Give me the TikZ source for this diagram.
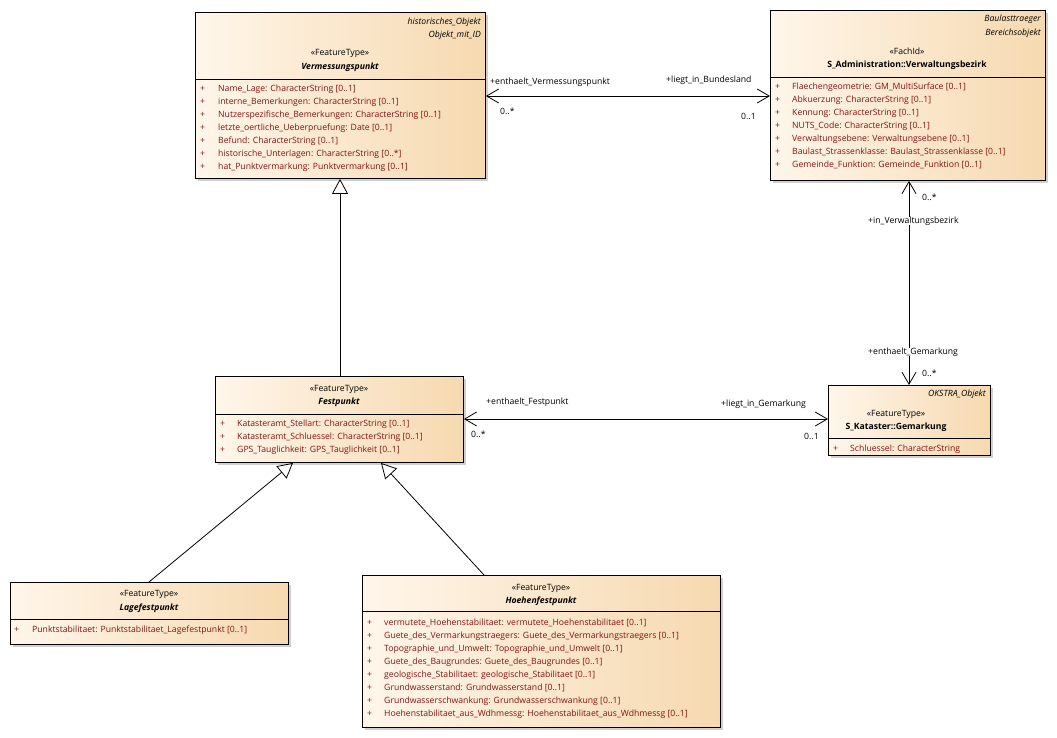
\documentclass[tikz,border=0pt]{standalone}
\usepackage{fontspec}
\setmainfont{Open Sans}
\usetikzlibrary{arrows.meta,shadows}
\definecolor{boxL}{RGB}{255,246,234}
\definecolor{boxR}{RGB}{246,217,176}
\definecolor{attrred}{RGB}{135,18,18}
\definecolor{shadowgray}{RGB}{208,208,208}
\newcommand{\fsz}{\fontsize{8.65}{10}\selectfont}
\tikzset{
  umlbox/.style={draw=black, line width=0.9pt, left color=boxL, right color=boxR, shading angle=90,
     inner sep=0pt, anchor=north west,
     drop shadow={shadow xshift=3pt, shadow yshift=-3pt, fill=shadowgray, opacity=1}},
  txt/.style={inner sep=0pt, font=\fsz},
  attr/.style={txt, anchor=west, text=attrred},
  stereo/.style={txt},
  cname/.style={txt, font=\fsz\bfseries\itshape},
  cnameup/.style={txt, font=\fsz\bfseries},
  tagr/.style={txt, anchor=east, font=\fsz\itshape},
  role/.style={txt, anchor=west},
  divider/.style={line width=0.9pt},
  gen/.style={line width=0.8pt, -{Triangle[open, length=15pt, width=16pt, line width=0.8pt]}},
  assoc/.style={line width=0.8pt, {Straight Barb[length=12pt, width=14pt, line width=0.8pt]}-{Straight Barb[length=12pt, width=14pt, line width=0.8pt]}}
}
\begin{document}
\begin{tikzpicture}[x=1pt, y=-1pt]
\useasboundingbox[fill=white] (0,0) rectangle (1057,738);

% ---------- Vermessungspunkt ----------
\node[umlbox, minimum width=290pt, minimum height=166pt] (verm) at (195,12) {};
\node[tagr] (vt1) at (481,22) {historisches\_Objekt};
\node[tagr] (vt2) at (481,35) {Objekt\_mit\_ID};
\node[stereo] (vs) at (340,53) {«FeatureType»};
\node[cname] (vn) at (340,67) {Vermessungspunkt};
\coordinate (vd) at (0,79);
\draw[divider] (verm.west |- vd) -- (verm.east |- vd);
\foreach \y/\t [count=\i] in {89/{Name\_Lage: CharacterString [0..1]},
  102/{interne\_Bemerkungen: CharacterString [0..1]},
  115/{Nutzerspezifische\_Bemerkungen: CharacterString [0..1]},
  128/{letzte\_oertliche\_Ueberpruefung: Date [0..1]},
  141/{Befund: CharacterString [0..1]},
  154/{historische\_Unterlagen: CharacterString [0..*]},
  167/{hat\_Punktvermarkung: Punktvermarkung [0..1]}}
{ \node[attr] (vp\i) at (200,\y) {+}; \node[attr] (va\i) at (218,\y) {\t}; }

% ---------- Verwaltungsbezirk ----------
\node[umlbox, minimum width=275pt, minimum height=170pt] (verw) at (770,10) {};
\node[tagr] (wt1) at (1041,19) {Baulasttraeger};
\node[tagr] (wt2) at (1041,33) {Bereichsobjekt};
\node[stereo] (ws) at (907,51) {«FachId»};
\node[cnameup] (wn) at (907,65) {S\_Administration::Verwaltungsbezirk};
\coordinate (wd) at (0,77);
\draw[divider] (verw.west |- wd) -- (verw.east |- wd);
\foreach \y/\t [count=\i] in {87/{Flaechengeometrie: GM\_MultiSurface [0..1]},
  100/{Abkuerzung: CharacterString [0..1]},
  113/{Kennung: CharacterString [0..1]},
  126/{NUTS\_Code: CharacterString [0..1]},
  139/{Verwaltungsebene: Verwaltungsebene [0..1]},
  152/{Baulast\_Strassenklasse: Baulast\_Strassenklasse [0..1]},
  165/{Gemeinde\_Funktion: Gemeinde\_Funktion [0..1]}}
{ \node[attr] (wp\i) at (775,\y) {+}; \node[attr] (wa\i) at (792,\y) {\t}; }

% ---------- Festpunkt ----------
\node[umlbox, minimum width=248pt, minimum height=86pt] (fest) at (215,376) {};
\node[stereo] (fs) at (339,389) {«FeatureType»};
\node[cname] (fn) at (339,402) {Festpunkt};
\coordinate (fd) at (0,414);
\draw[divider] (fest.west |- fd) -- (fest.east |- fd);
\foreach \y/\t [count=\i] in {424/{Katasteramt\_Stellart: CharacterString [0..1]},
  437/{Katasteramt\_Schluessel: CharacterString [0..1]},
  450/{GPS\_Tauglichkeit: GPS\_Tauglichkeit [0..1]}}
{ \node[attr] (fp\i) at (220,\y) {+}; \node[attr] (fa\i) at (237,\y) {\t}; }

% ---------- Gemarkung ----------
\node[umlbox, minimum width=162pt, minimum height=70pt] (gem) at (828,385) {};
\node[tagr] (gt1) at (986,394) {OKSTRA\_Objekt};
\node[stereo] (gs) at (896,414) {«FeatureType»};
\node[cnameup] (gn) at (896,427) {S\_Kataster::Gemarkung};
\coordinate (gd) at (0,438);
\draw[divider] (gem.west |- gd) -- (gem.east |- gd);
\node[attr] (gp1) at (833,449) {+};
\node[attr] (ga1) at (850,449) {Schluessel: CharacterString};

% ---------- Lagefestpunkt ----------
\node[umlbox, minimum width=278pt, minimum height=62pt] (lage) at (10,582) {};
\node[stereo] (ls) at (149,594) {«FeatureType»};
\node[cname] (ln) at (149,608) {Lagefestpunkt};
\coordinate (ld) at (0,619);
\draw[divider] (lage.west |- ld) -- (lage.east |- ld);
\node[attr] (lp1) at (14,630) {+};
\node[attr] (la1) at (32,630) {Punktstabilitaet: Punktstabilitaet\_Lagefestpunkt [0..1]};

% ---------- Hoehenfestpunkt ----------
\node[umlbox, minimum width=358pt, minimum height=152pt] (hoeh) at (362,575) {};
\node[stereo] (hs) at (541,588) {«FeatureType»};
\node[cname] (hn) at (541,601) {Hoehenfestpunkt};
\coordinate (hd) at (0,611);
\draw[divider] (hoeh.west |- hd) -- (hoeh.east |- hd);
\foreach \y/\t [count=\i] in {623/{vermutete\_Hoehenstabilitaet: vermutete\_Hoehenstabilitaet [0..1]},
  636/{Guete\_des\_Vermarkungstraegers: Guete\_des\_Vermarkungstraegers [0..1]},
  649/{Topographie\_und\_Umwelt: Topographie\_und\_Umwelt [0..1]},
  662/{Guete\_des\_Baugrundes: Guete\_des\_Baugrundes [0..1]},
  675/{geologische\_Stabilitaet: geologische\_Stabilitaet [0..1]},
  688/{Grundwasserstand: Grundwasserstand [0..1]},
  701/{Grundwasserschwankung: Grundwasserschwankung [0..1]},
  714/{Hoehenstabilitaet\_aus\_Wdhmessg: Hoehenstabilitaet\_aus\_Wdhmessg [0..1]}}
{ \node[attr] (hp\i) at (367,\y) {+}; \node[attr] (ha\i) at (384,\y) {\t}; }

% ---------- Generalizations ----------
\coordinate (g1) at (340,0);
\draw[gen] (fest.north -| g1) -- (verm.south -| g1);
\coordinate (g2a) at (149,0);
\coordinate (g2b) at (293,0);
\draw[gen] (lage.north -| g2a) -- (fest.south -| g2b);
\coordinate (g3a) at (484,0);
\coordinate (g3b) at (381,0);
\draw[gen] (hoeh.north -| g3a) -- (fest.south -| g3b);

% ---------- Associations ----------
\coordinate (a1) at (0,96);
\draw[assoc] (verm.east |- a1) -- (verw.west |- a1);
\node[role] (r1) at (490,82) {+enthaelt\_Vermessungspunkt};
\node[role] (m1) at (500,111) {0..*};
\node[role] (r2) at (666,80) {+liegt\_in\_Bundesland};
\node[role] (m2) at (741,116) {0..1};

\coordinate (a2) at (0,419);
\draw[assoc] (fest.east |- a2) -- (gem.west |- a2);
\node[role] (r3) at (486,402) {+enthaelt\_Festpunkt};
\node[role] (m3) at (471,434) {0..*};
\node[role] (r4) at (721,404) {+liegt\_in\_Gemarkung};
\node[role] (m4) at (804,436) {0..1};

\coordinate (a3) at (909,0);
\draw[assoc] (verw.south -| a3) -- (gem.north -| a3);
\node[role] (m5) at (922,197) {0..*};
\node[role, fill=white, inner xsep=1pt] (r5) at (867,221) {+in\_Verwaltungsbezirk};
\node[role, fill=white, inner xsep=1pt] (r6) at (867,352) {+enthaelt\_Gemarkung};
\node[role] (m6) at (922,373) {0..*};
\end{tikzpicture}
\end{document}
